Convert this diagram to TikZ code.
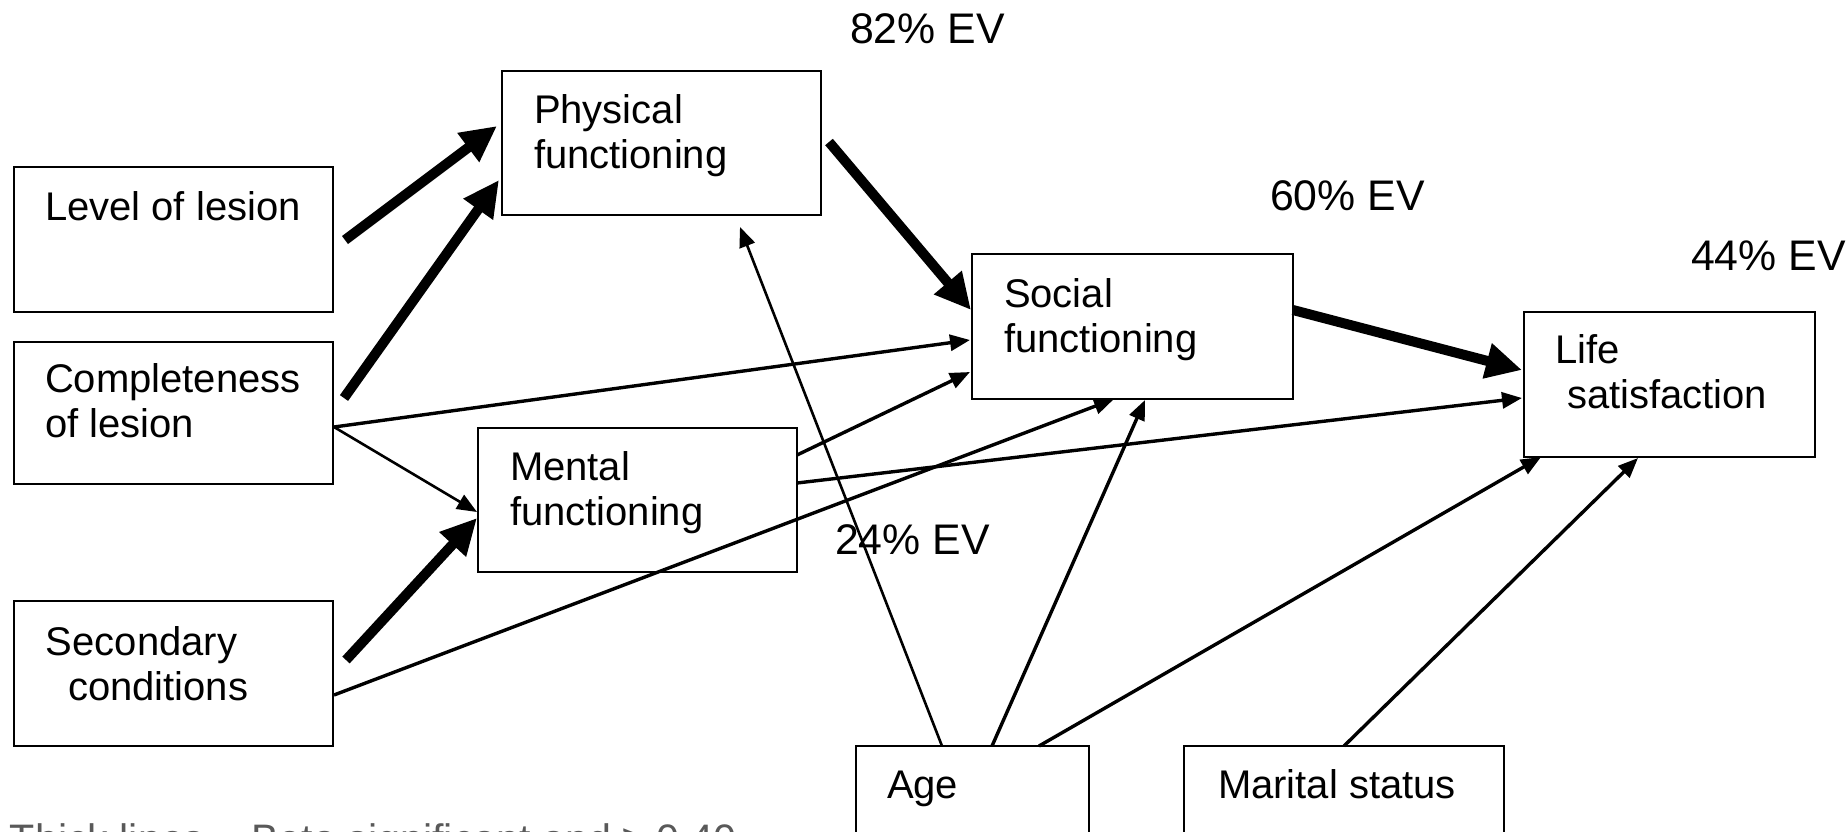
\documentclass[tikz,border=0pt]{standalone}
\usepackage{fontspec}
\setmainfont{Liberation Sans}
\usetikzlibrary{arrows.meta}
\definecolor{notegray}{RGB}{89,89,89}
\newcommand{\twoline}[2]{\vtop{\hbox{#1}\hbox{#2}}}
\begin{document}
\begin{tikzpicture}[x=0.5pt,y=-0.5pt,
  box/.style={draw, line width=1.4pt, rectangle, inner sep=0pt, outer sep=0pt, anchor=north west},
  lbl/.style={anchor=base west, inner sep=0pt, outer sep=0pt, font=\fontsize{20}{22.5}\selectfont},
  evlbl/.style={anchor=base west, inner sep=0pt, outer sep=0pt, font=\fontsize{21.4}{24}\selectfont},
  heavy/.style={line width=5pt, -{Triangle[length=18pt,width=17pt]}},
  medium/.style={line width=1.7pt, -{Triangle[length=10pt,width=8pt]}},
  light/.style={line width=1.3pt, -{Triangle[length=10pt,width=8pt]}}]
\useasboundingbox (0,0) rectangle (1847,831);
% boxes
\node[box, minimum width=159.5pt, minimum height=72.5pt] (lol) at (14,167) {};
\node[box, minimum width=159.5pt, minimum height=71pt] (comp) at (14,342) {};
\node[box, minimum width=159.5pt, minimum height=72.5pt] (sec) at (14,601) {};
\node[box, minimum width=159.5pt, minimum height=72pt] (phys) at (502,71) {};
\node[box, minimum width=159.5pt, minimum height=72pt] (ment) at (478,428) {};
\node[box, minimum width=160.5pt, minimum height=72.5pt] (soc) at (972,254) {};
\node[box, minimum width=145.5pt, minimum height=72.5pt] (life) at (1524,312) {};
\node[box, minimum width=116.5pt, minimum height=72pt] (age) at (856,746) {};
\node[box, minimum width=160pt, minimum height=72pt] (mar) at (1184,746) {};
% labels
\node[lbl] (lolT) at ([shift={(31,53)}]lol.north west) {Level of lesion};
\node[lbl] (compT) at ([shift={(31,50)}]comp.north west) {\twoline{Completeness}{of lesion}};
\node[lbl] (secT) at ([shift={(32,54)}]sec.north west) {\twoline{Secondary}{\hspace*{11pt}conditions}};
\node[lbl] (physT) at ([shift={(32,52)}]phys.north west) {\twoline{Physical}{functioning}};
\node[lbl] (mentT) at ([shift={(32,52)}]ment.north west) {\twoline{Mental}{functioning}};
\node[lbl] (socT) at ([shift={(32,53)}]soc.north west) {\twoline{Social}{functioning}};
\node[lbl] (lifeT) at ([shift={(31,51)}]life.north west) {\twoline{Life}{\hspace*{6pt}satisfaction}};
\node[lbl] (ageT) at ([shift={(31,52)}]age.north west) {Age};
\node[lbl] (marT) at ([shift={(34,52)}]mar.north west) {Marital status};
% explained variance
\node[evlbl] (ev82) at (850,43) {82\% EV};
\node[evlbl] (ev60) at (1270,210) {60\% EV};
\node[evlbl] (ev44) at (1691,270) {44\% EV};
\node[evlbl] (ev24) at (835,554) {24\% EV};
\node[lbl, font=\fontsize{20.6}{24}\selectfont, text=notegray] (note) at (10,853) {Thick lines = Beta significant and ≥ 0.40};
% thick arrows
\draw[heavy] ([shift={(331,73)}]lol.north west) -- ([shift={(-5,55)}]phys.north west);
\draw[heavy] ([shift={(330,56)}]comp.north west) -- ([shift={(-3,109)}]phys.north west);
\draw[heavy] ([shift={(327,71)}]phys.north west) -- ([shift={(-1,56)}]soc.north west);
\draw[heavy] ([shift={(332,59)}]sec.north west) -- ([shift={(-1,90)}]ment.north west);
\draw[heavy] ([shift={(321,56)}]soc.north west) -- ([shift={(-2,58)}]life.north west);
% thin arrows
\draw[medium] ([shift={(320,85)}]comp.north west) -- ([shift={(-2,86)}]soc.north west);
\draw[light] ([shift={(320,85)}]comp.north west) -- ([shift={(-1,84)}]ment.north west);
\draw[medium] ([shift={(319,27)}]ment.north west) -- ([shift={(-2,118)}]soc.north west);
\draw[medium] ([shift={(319,55)}]ment.north west) -- ([shift={(-2,86)}]life.north west);
\draw[medium] ([shift={(320,94)}]sec.north west) -- ([shift={(142,145)}]soc.north west);
\draw[light] ([shift={(86,0)}]age.north west) -- ([shift={(238,156)}]phys.north west);
\draw[medium] ([shift={(136,0)}]age.north west) -- ([shift={(173,146)}]soc.north west);
\draw[medium] ([shift={(183,0)}]age.north west) -- ([shift={(17,145)}]life.north west);
\draw[medium] ([shift={(160,0)}]mar.north west) -- ([shift={(114,146)}]life.north west);
\end{tikzpicture}
\end{document}
